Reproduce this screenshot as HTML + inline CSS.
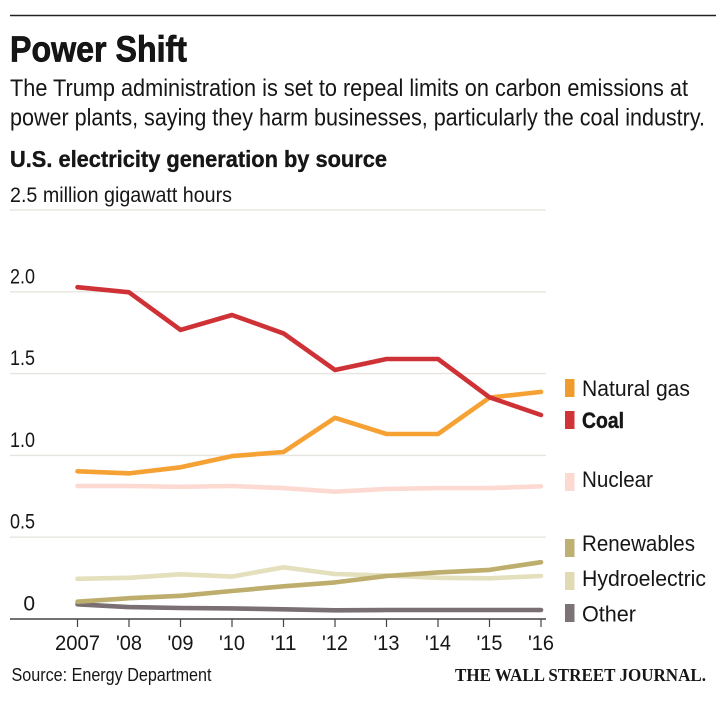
<!DOCTYPE html>
<html lang="en">
<head>
<meta charset="utf-8">
<title>Power Shift</title>
<style>
html,body{margin:0;padding:0;background:#fff;width:725px;height:705px;overflow:hidden}
svg{display:block}
text{font-family:"Liberation Sans",sans-serif;fill:#161616}
</style>
</head>
<body>
<svg id="chart" xmlns="http://www.w3.org/2000/svg" width="725" height="705" viewBox="0 0 725 705">
  <rect x="0" y="0" width="725" height="705" fill="#fff"/>
  <line x1="10" x2="716" y1="15.5" y2="15.5" stroke="#222" stroke-width="1.6"/>
  <text x="10" y="61.5" font-size="36" font-weight="700" textLength="177" lengthAdjust="spacingAndGlyphs" fill="#0c0c0c" stroke="#0c0c0c" stroke-width="0.7">Power Shift</text>
  <text x="10" y="96" font-size="24" textLength="678" lengthAdjust="spacingAndGlyphs">The Trump administration is set to repeal limits on carbon emissions at</text>
  <text x="10" y="125.5" font-size="24" textLength="695" lengthAdjust="spacingAndGlyphs">power plants, saying they harm businesses, particularly the coal industry.</text>
  <text x="10" y="167" font-size="23" font-weight="700" textLength="377" lengthAdjust="spacingAndGlyphs" fill="#0c0c0c" stroke="#0c0c0c" stroke-width="0.35">U.S. electricity generation by source</text>
  <text x="10" y="202" font-size="21" textLength="222" lengthAdjust="spacingAndGlyphs" fill="#222">2.5 million gigawatt hours</text>
  <g id="grid"></g>
  <g id="yticks"></g>
  <g id="axis"></g>
  <g id="series"></g>
  <g id="legend"></g>
  <text x="11.5" y="681" font-size="18" textLength="200" lengthAdjust="spacingAndGlyphs" fill="#222">Source: Energy Department</text>
  <text x="455" y="681" font-size="17.5" font-weight="700" textLength="251" lengthAdjust="spacingAndGlyphs" style="font-family:'Liberation Serif',serif" fill="#222">THE WALL STREET JOURNAL.</text>
</svg>
<script>
const years = ['2007', "'08", "'09", "'10", "'11", "'12", "'13", "'14", "'15", "'16"];
const yTicks = [0, 0.5, 1, 1.5, 2, 2.5];
const yTickLabels = ['0', '0.5', '1.0', '1.5', '2.0', ''];
const other = [0.09, 0.073, 0.067, 0.065, 0.059, 0.053, 0.055, 0.055, 0.055, 0.055];
const hydroelectric = [0.246, 0.252, 0.273, 0.259, 0.316, 0.275, 0.265, 0.252, 0.249, 0.263];
const renewables = [0.106, 0.127, 0.142, 0.171, 0.2, 0.224, 0.263, 0.285, 0.3, 0.347];
const nuclear = [0.813, 0.813, 0.808, 0.813, 0.8, 0.778, 0.795, 0.8, 0.8, 0.811];
const naturalGas = [0.903, 0.89, 0.927, 0.996, 1.021, 1.23, 1.131, 1.131, 1.353, 1.388];
const coal = [2.028, 1.997, 1.767, 1.858, 1.746, 1.522, 1.589, 1.589, 1.355, 1.247];

const NS = 'http://www.w3.org/2000/svg';
const xLeft = 77.5, xRight = 541, yZero = 619, pxPerUnit = 163.6;
function xScale(i) { return xLeft + i * (xRight - xLeft) / (years.length - 1); }
function yScale(v) { return yZero - v * pxPerUnit; }
function make(tag, parent, attrs) {
  const el = document.createElementNS(NS, tag);
  for (const k in attrs) el.setAttribute(k, attrs[k]);
  parent.appendChild(el);
  return el;
}

const gridG = document.getElementById('grid');
const yG = document.getElementById('yticks');
yTicks.forEach((t, i) => {
  if (t > 0) {
    const g = make('line', gridG, { x1: 10, x2: 546, y1: yScale(t), y2: yScale(t), stroke: '#e7e5df', 'stroke-width': 1.4 });
    
    
  }
  if (yTickLabels[i]) {
    const isZero = t === 0;
    const l = make('text', yG, { x: 35, y: yScale(t) - 8.5, 'font-size': 21, 'text-anchor': 'end', fill: '#222' });
    l.textContent = yTickLabels[i];
    
    
    if (!isZero) { l.setAttribute('textLength', 25); l.setAttribute('lengthAdjust', 'spacingAndGlyphs'); }
  }
});

const axisG = document.getElementById('axis');
const base = make('line', axisG, { x1: 10, x2: 546, y1: yZero, y2: yZero, stroke: '#444', 'stroke-width': 1.6 });


years.forEach((y, i) => {
  const tick = make('line', axisG, { x1: xScale(i), x2: xScale(i), y1: yZero, y2: yZero + 8, stroke: '#444', 'stroke-width': 1.2 });
  
  
  const l = make('text', axisG, { x: xScale(i), y: 650, 'font-size': 21, 'text-anchor': 'middle', fill: '#222', textLength: i === 0 ? 45 : 26, lengthAdjust: 'spacingAndGlyphs' });
  l.textContent = y;
  
  
});

const seriesG = document.getElementById('series');
function drawLine(values, color, width) {
  const d = values.map((v, i) => (i ? 'L' : 'M') + xScale(i).toFixed(1) + ' ' + yScale(v).toFixed(1)).join(' ');
  return make('path', seriesG, { d: d, fill: 'none', stroke: color, 'stroke-width': width, 'stroke-linejoin': 'round', 'stroke-linecap': 'round' });
}
const otherLine = drawLine(other, '#7a6f72', 4.6);


const hydroLine = drawLine(hydroelectric, '#e4dfbd', 4.6);


const renewLine = drawLine(renewables, '#bdae6e', 4.6);


const nuclearLine = drawLine(nuclear, '#fcdad2', 4.6);


const gasLine = drawLine(naturalGas, '#f5a133', 4.6);


const coalLine = drawLine(coal, '#cf3236', 4.6);



const legendLabels = ['Natural gas', 'Coal', 'Nuclear', 'Renewables', 'Hydroelectric', 'Other'];
const legendColors = ['#ee9c2e', '#d13437', '#fcdad2', '#bdb072', '#e1dbb4', '#7c7376'];
const legendG = document.getElementById('legend');
const legendBaselines = [396, 428, 487, 551, 586, 621.5];
const legendSwatchTops = [379, 411, 473, 539, 572, 604];
const legendWidths = [108, 42, 71, 113, 124, 54];
legendLabels.forEach((name, i) => {
  const s = make('rect', legendG, { x: 565, y: legendSwatchTops[i], width: 9.5, height: 18, fill: legendColors[i] });
  
  
  const t = make('text', legendG, { x: 582, y: legendBaselines[i], 'font-size': 22, textLength: legendWidths[i], lengthAdjust: 'spacingAndGlyphs', 'font-weight': name === 'Coal' ? 700 : 400 });
  t.textContent = name;
  
  
  if (name === 'Coal') { t.setAttribute('stroke', '#161616'); t.setAttribute('stroke-width', '0.4'); }
});
</script>
</body>
</html>
